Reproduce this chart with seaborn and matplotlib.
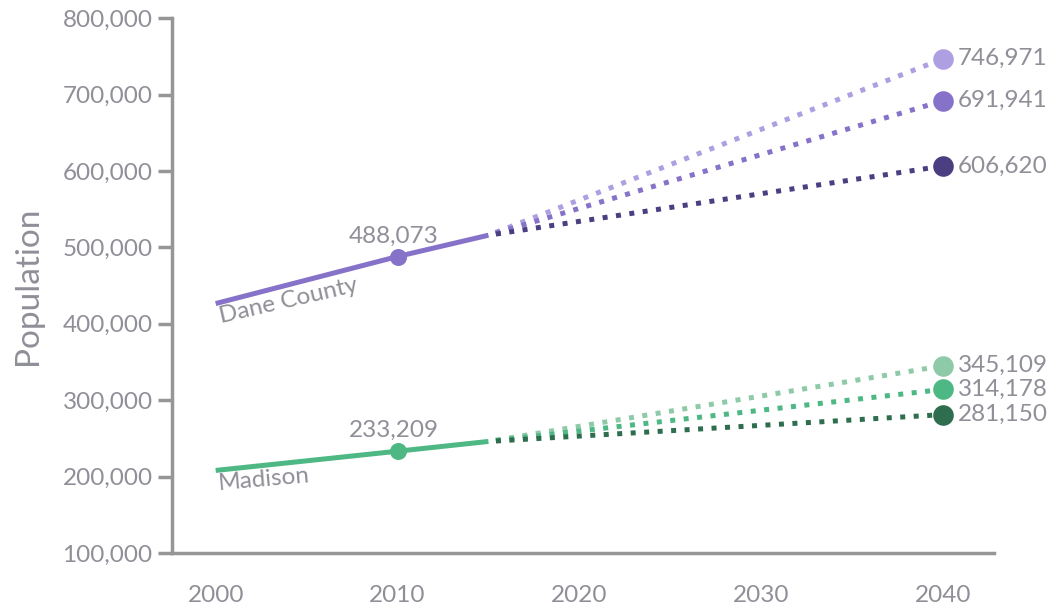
import numpy as np
import pandas as pd
import seaborn as sns
import matplotlib.pyplot as plt
from matplotlib.ticker import FuncFormatter

# historical estimates
hist_years = [2000, 2010, 2015]
dane_hist = [426526, 488073, 516000]
madison_hist = [208054, 233209, 246000]

# projections 2015 -> 2040 (high, mid, low)
proj_years = [2015, 2040]
dane_proj = {"high": [516000, 746971], "mid": [516000, 691941], "low": [516000, 606620]}
madison_proj = {"high": [246000, 345109], "mid": [246000, 314178], "low": [246000, 281150]}

dane_colors = {"hist": "#8672c9", "high": "#ad9fe1", "mid": "#8672c9", "low": "#4b3f81"}
madison_colors = {"hist": "#4db883", "high": "#8fcaa8", "mid": "#4db883", "low": "#2f6d4f"}

text_grey = "#8f8f98"
axis_grey = "#969696"
fs = 17.5

sns.set_theme(style="white")
plt.rcParams["font.family"] = ["Lato", "DejaVu Sans"]

fig = plt.figure(figsize=(10.51, 6.09), dpi=100)
ax = fig.add_axes([0.1637, 0.092, 0.782, 0.878])

hist = pd.DataFrame({"year": hist_years, "Dane County": dane_hist, "Madison": madison_hist})

for name, vals, proj, cols in [("Dane County", dane_hist, dane_proj, dane_colors),
                               ("Madison", madison_hist, madison_proj, madison_colors)]:
    sns.lineplot(data=hist, x="year", y=name, ax=ax, color=cols["hist"], linewidth=3.6,
                 solid_capstyle="butt")
    ax.scatter([hist_years[1]], [vals[1]], s=150, color=cols["hist"], zorder=5, linewidths=0)
    ax.text(hist_years[1] - 0.2, vals[1] + 13000, f"{vals[1]:,}", ha="center", va="bottom",
            fontsize=fs, color=text_grey)
    for key in ["high", "mid", "low"]:
        pdf = pd.DataFrame({"year": proj_years, "pop": proj[key]})
        sns.lineplot(data=pdf, x="year", y="pop", ax=ax, color=cols[key], linewidth=3.6,
                     linestyle=(1.2, (1.0, 1.7)))
        ax.scatter([proj_years[-1]], [proj[key][-1]], s=220, color=cols[key], zorder=5, linewidths=0)
        ax.text(proj_years[-1] + 0.8, proj[key][-1], f"{proj[key][-1]:,}", ha="left", va="center",
                fontsize=fs, color=text_grey)

ax.text(2000.1, dane_hist[0] - 4000, "Dane County", rotation=13, rotation_mode="anchor",
        ha="left", va="top", fontsize=fs, color=text_grey)
ax.text(2000.1, madison_hist[0] - 4000, "Madison", rotation=5, rotation_mode="anchor",
        ha="left", va="top", fontsize=fs, color=text_grey)

ax.set_xlim(1997.6, 2042.8)
ax.set_ylim(100000, 800000)
ax.set_xticks([2000, 2010, 2020, 2030, 2040])
ax.set_yticks(np.arange(100000, 800001, 100000))
ax.yaxis.set_major_formatter(FuncFormatter(lambda v, p: f"{int(v):,}"))
ax.set_xlabel("")
ax.set_ylabel("Population", fontsize=24, color=text_grey, labelpad=14)

sns.despine(ax=ax)
for side in ["left", "bottom"]:
    ax.spines[side].set_color(axis_grey)
    ax.spines[side].set_linewidth(2.5)
ax.tick_params(axis="y", left=True, length=10, width=2.5, color=axis_grey, labelsize=fs,
               labelcolor=text_grey, pad=4)
ax.tick_params(axis="x", bottom=False, labelsize=fs, labelcolor=text_grey, pad=17)
ax.grid(False)

fig.savefig("out.png", dpi=100)
